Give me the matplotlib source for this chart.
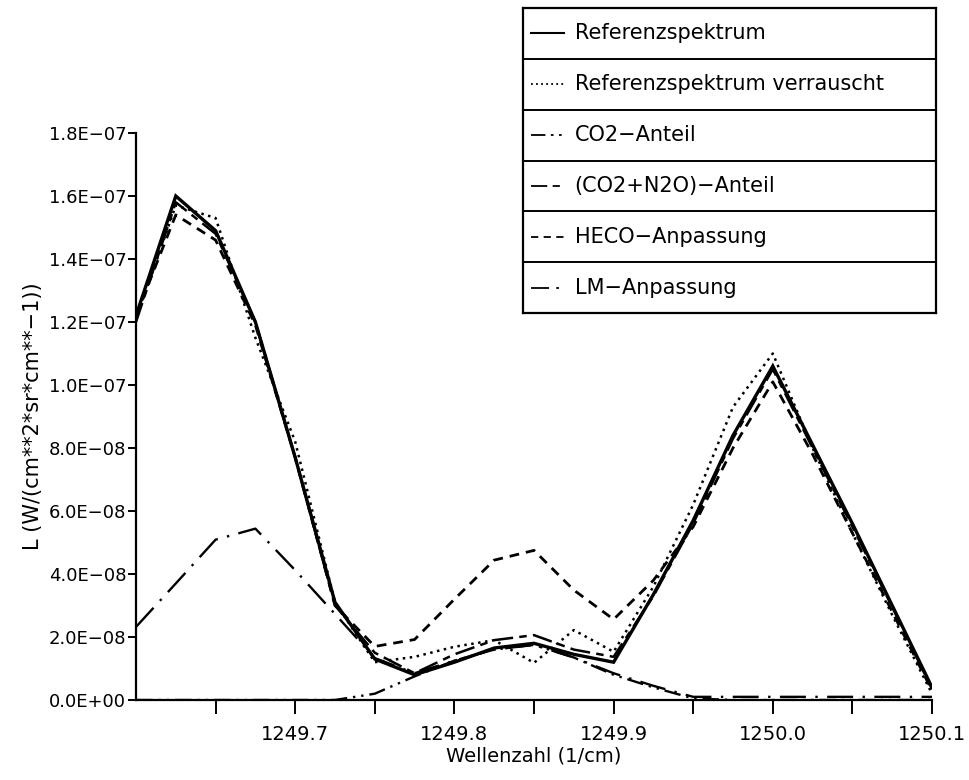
import matplotlib
matplotlib.use("Agg")
import matplotlib.pyplot as plt
from matplotlib.ticker import FixedLocator, FuncFormatter

# Wavenumber grid (1/cm)
wellenzahl = [1249.600, 1249.625, 1249.650, 1249.675, 1249.700, 1249.725, 1249.750,
              1249.775, 1249.800, 1249.825, 1249.850, 1249.875, 1249.900, 1249.925,
              1249.950, 1249.975, 1250.000, 1250.025, 1250.050, 1250.075, 1250.100]

# Radiance values in units of 1E-08 W/(cm**2*sr*cm**-1)
referenz = [12.2, 16.0, 14.9, 12.0, 7.7, 3.1, 1.3, 0.8, 1.2, 1.65, 1.8, 1.45, 1.2,
            3.35, 5.7, 8.4, 10.6, 8.1, 5.6, 3.0, 0.4]
verrauscht = [12.1, 15.7, 15.3, 11.5, 8.2, 3.1, 1.2, 1.37, 1.69, 1.9, 1.18, 2.22, 1.53,
              3.6, 6.2, 9.3, 11.0, 8.0, 5.3, 2.7, 0.2]
co2_anteil = [0.0, 0.0, 0.0, 0.0, 0.0, 0.0, 0.2, 0.75, 1.25, 1.6, 1.75, 1.35, 0.8,
              0.4, 0.05, 0.0, 0.0, 0.0, 0.0, 0.0, 0.0]
co2_n2o_anteil = [12.0, 15.8, 14.8, 12.0, 7.7, 3.0, 1.5, 0.85, 1.45, 1.9, 2.06, 1.6, 1.37,
                  3.3, 5.6, 8.3, 10.5, 8.0, 5.5, 2.95, 0.35]
heco = [12.2, 15.4, 14.6, 11.9, 7.7, 3.0, 1.7, 1.92, 3.2, 4.44, 4.75, 3.49, 2.56,
        3.8, 5.5, 8.0, 10.1, 7.8, 5.3, 2.8, 0.3]
lm = [2.32, 3.7, 5.09, 5.44, 4.12, 2.73, 1.33, 0.85, 1.25, 1.6, 1.75, 1.35, 0.85,
      0.45, 0.1, 0.1, 0.1, 0.1, 0.1, 0.1, 0.1]

y_ticks = [0, 2, 4, 6, 8, 10, 12, 14, 16, 18]
x_ticks = [1249.65, 1249.70, 1249.75, 1249.80, 1249.85, 1249.90, 1249.95, 1250.00, 1250.05, 1250.10]
x_labels = ["", "1249.7", "", "1249.8", "", "1249.9", "", "1250.0", "", "1250.1"]

legend_names = ["Referenzspektrum", "Referenzspektrum verrauscht", "CO2\u2212Anteil",
                "(CO2+N2O)\u2212Anteil", "HECO\u2212Anpassung", "LM\u2212Anpassung"]

# Line styles for each series (same order as legend)
styles = [
  dict(ls="-", lw=2.4),
  dict(ls=(0, (1, 1.8)), lw=1.8),
  dict(ls=(0, (7, 2.5, 1, 2.5, 1, 2.5)), lw=1.7),
  dict(ls=(0, (8, 2.5, 3, 2.5)), lw=1.8),
  dict(ls=(0, (3.5, 2.5)), lw=2.0),
  dict(ls=(0, (11, 4, 1, 4)), lw=1.7),
]
# Shorter patterns so the legend samples show the whole dash sequence
legend_styles = [
  dict(ls="-", lw=1.5),
  dict(ls=(0, (1, 1.8)), lw=1.3),
  dict(ls=(0, (8, 3, 1.5, 3, 1.5, 3)), lw=1.3),
  dict(ls=(0, (9, 3, 4, 3)), lw=1.3),
  dict(ls=(0, (4, 3)), lw=1.3),
  dict(ls=(0, (10, 4, 1.5, 4)), lw=1.3),
]
series = [referenz, verrauscht, co2_anteil, co2_n2o_anteil, heco, lm]

plt.rcParams["font.family"] = ["DejaVu Sans"]

W, H = 969, 780
fig = plt.figure(figsize=(W / 100, H / 100), dpi=100)
ax = fig.add_axes([136 / W, 1 - 700 / H, (932 - 136) / W, (700 - 133) / H])

scale = 1e-8
for values, st in zip(series, styles):
  ax.plot(wellenzahl, [v * scale for v in values], color="black", solid_joinstyle="miter",
          dash_capstyle="butt", **st)

ax.set_xlim(1249.6, 1250.1)
ax.set_ylim(0, 1.8e-7)
ax.spines["top"].set_visible(False)
ax.spines["right"].set_visible(False)
ax.spines["left"].set_linewidth(1.6)
ax.spines["bottom"].set_linewidth(1.6)

ax.yaxis.set_major_locator(FixedLocator([t * scale for t in y_ticks]))
ax.yaxis.set_major_formatter(FuncFormatter(lambda v, p: ("%.1E" % v).replace("-", "\u2212")))
ax.xaxis.set_major_locator(FixedLocator(x_ticks))
ax.set_xticklabels(x_labels)
ax.tick_params(axis="y", direction="out", length=6, width=1.4, labelsize=13, pad=1)
ax.tick_params(axis="x", direction="out", length=10, width=1.4, labelsize=14, pad=8)

ax.set_xlabel("Wellenzahl (1/cm)", fontsize=14, labelpad=2)
ax.set_ylabel("L (W/(cm**2*sr*cm**\u22121))", fontsize=15, labelpad=4)

# Table-like legend box at the top right
leg = fig.add_axes([523 / W, 1 - 313 / H, (936 - 523) / W, (313 - 8) / H])
leg.set_xlim(0, 1)
leg.set_ylim(6, 0)
leg.set_xticks([])
leg.set_yticks([])
for s in leg.spines.values():
  s.set_linewidth(1.6)
for i in range(1, 6):
  leg.axhline(i, color="black", lw=1.4)
for i, (name, st) in enumerate(zip(legend_names, legend_styles)):
  yc = i + 0.5
  leg.plot([0.02, 0.1], [yc, yc], color="black", dash_capstyle="butt", **st)
  leg.text(0.125, yc, name, fontsize=15, va="center", ha="left")

fig.savefig("out.png", dpi=100)
